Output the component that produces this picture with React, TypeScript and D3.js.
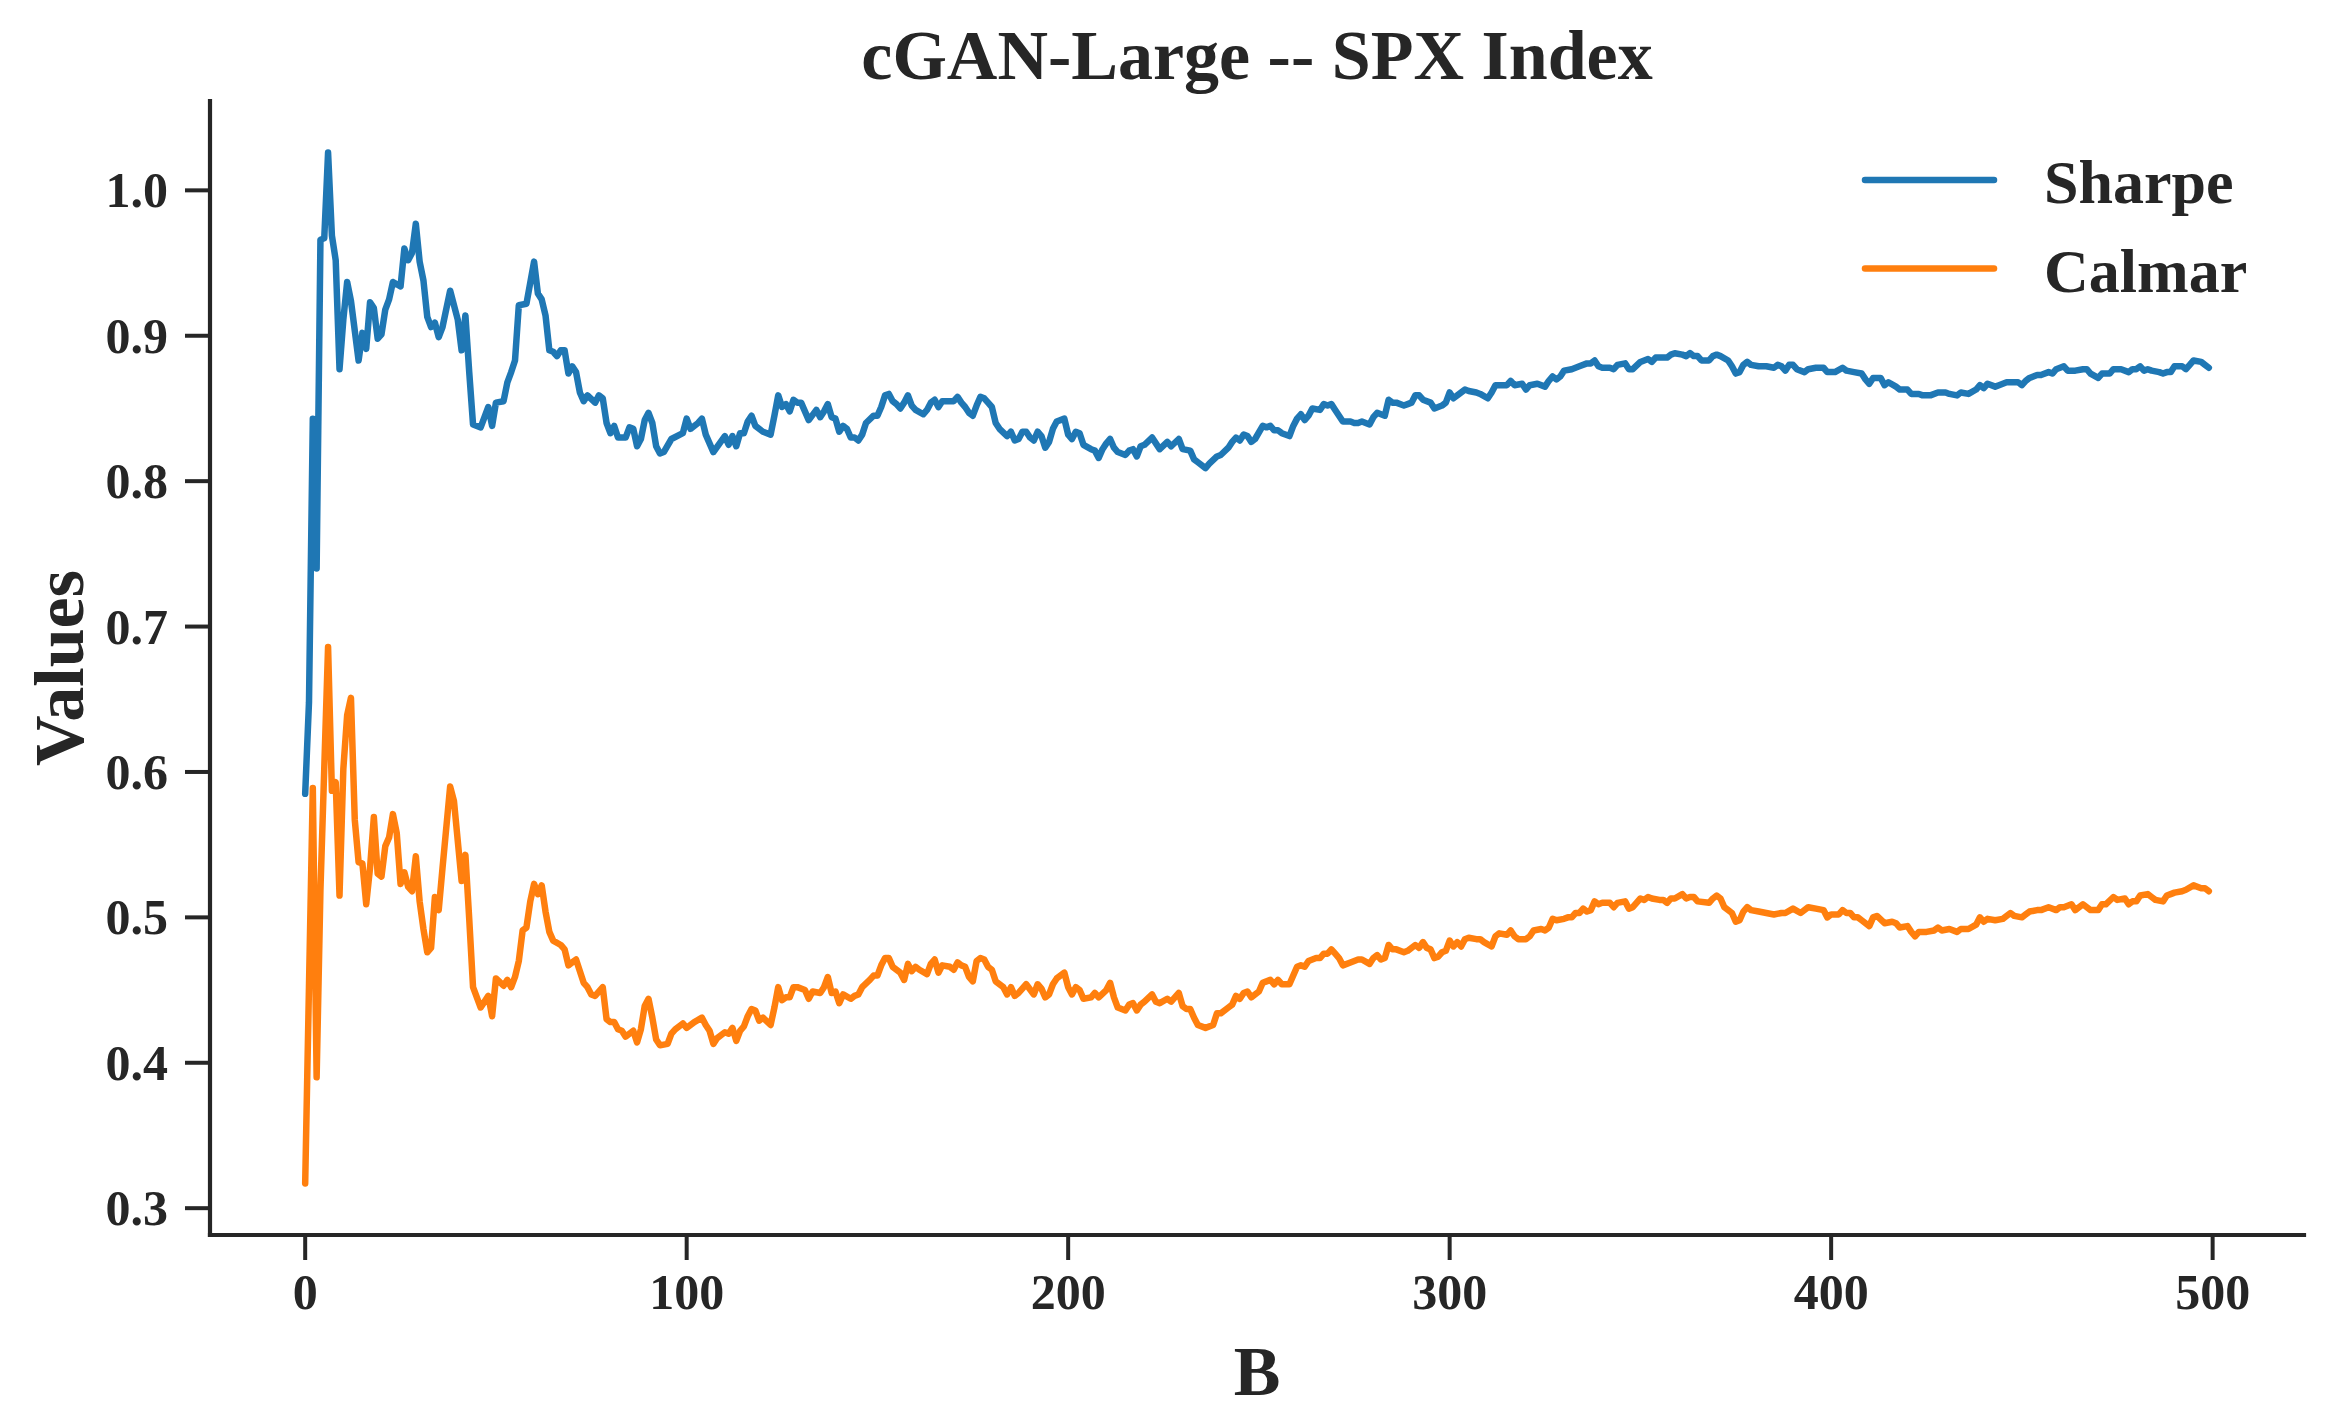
import React from 'react';
import * as d3 from 'd3';

// values: [B, value]
const sharpe: [number, number][] = [
  [0, 0.585], [1, 0.648], [2, 0.843], [3, 0.74], [4, 0.966], [5, 0.967], [6, 1.026], [7, 0.969],
  [8, 0.952], [9, 0.877], [10, 0.911], [11, 0.937], [12, 0.924], [14, 0.883], [15, 0.902],
  [16, 0.891], [17, 0.923], [18, 0.919], [19, 0.898], [20, 0.901], [21, 0.918], [22, 0.925],
  [23, 0.937], [25, 0.934], [26, 0.96], [27, 0.952], [28, 0.957], [29, 0.977], [30, 0.951],
  [31, 0.938], [32, 0.913], [33, 0.906], [34, 0.909], [35, 0.899], [36, 0.906], [38, 0.931],
  [40, 0.911], [41, 0.89], [42, 0.914], [43, 0.875], [44, 0.839], [46, 0.837], [48, 0.851],
  [49, 0.838], [50, 0.854], [52, 0.855], [53, 0.868], [54, 0.875], [55, 0.883], [56, 0.921],
  [58, 0.922], [60, 0.951], [61, 0.929], [62, 0.925], [63, 0.914], [64, 0.89], [65, 0.889],
  [66, 0.886], [67, 0.89], [68, 0.89], [69, 0.874], [70, 0.879], [71, 0.875], [72, 0.861],
  [73, 0.855], [74, 0.859], [76, 0.854], [77, 0.859], [78, 0.857], [79, 0.84], [80, 0.833],
  [81, 0.838], [82, 0.83], [84, 0.83], [85, 0.837], [86, 0.836], [87, 0.824], [88, 0.829],
  [89, 0.842], [90, 0.847], [91, 0.84], [92, 0.824], [93, 0.819], [94, 0.82], [96, 0.829],
  [99, 0.833], [100, 0.843], [101, 0.836], [103, 0.84], [104, 0.843], [105, 0.832], [107, 0.82],
  [110, 0.831], [111, 0.825], [112, 0.831], [113, 0.824], [114, 0.833], [115, 0.833], [116, 0.841],
  [117, 0.845], [118, 0.838], [120, 0.834], [122, 0.832], [123, 0.845], [124, 0.859], [125, 0.851],
  [126, 0.853], [127, 0.848], [128, 0.856], [129, 0.854], [130, 0.854], [131, 0.848], [132, 0.842],
  [134, 0.849], [135, 0.844], [136, 0.848], [137, 0.853], [138, 0.844], [139, 0.843], [140, 0.834],
  [141, 0.838], [142, 0.836], [143, 0.83], [144, 0.83], [145, 0.828], [146, 0.832], [147, 0.84],
  [149, 0.845], [150, 0.845], [151, 0.851], [152, 0.859], [153, 0.86], [154, 0.855], [155, 0.853],
  [156, 0.85], [157, 0.854], [158, 0.859], [159, 0.852], [160, 0.849], [162, 0.846], [163, 0.849],
  [164, 0.854], [165, 0.856], [166, 0.851], [167, 0.855], [168, 0.855], [170, 0.855], [171, 0.858],
  [172, 0.854], [173, 0.851], [174, 0.847], [175, 0.845], [176, 0.852], [177, 0.858], [178, 0.857],
  [179, 0.854], [180, 0.851], [181, 0.84], [182, 0.836], [184, 0.831], [185, 0.834], [186, 0.828],
  [187, 0.829], [188, 0.834], [189, 0.834], [190, 0.83], [191, 0.828], [192, 0.834], [193, 0.831],
  [194, 0.823], [195, 0.827], [196, 0.836], [197, 0.841], [199, 0.843], [200, 0.832], [201, 0.829],
  [202, 0.834], [203, 0.833], [204, 0.825], [206, 0.822], [207, 0.821], [208, 0.816], [209, 0.822],
  [210, 0.826], [211, 0.829], [212, 0.823], [213, 0.82], [215, 0.818], [216, 0.821], [217, 0.822],
  [218, 0.817], [219, 0.824], [220, 0.825], [222, 0.83], [223, 0.826], [224, 0.822], [226, 0.827],
  [227, 0.824], [229, 0.829], [230, 0.822], [232, 0.821], [233, 0.815], [234, 0.813], [236, 0.809],
  [237, 0.812], [239, 0.817], [240, 0.818], [242, 0.823], [243, 0.827], [244, 0.83], [245, 0.828],
  [246, 0.832], [247, 0.831], [248, 0.827], [249, 0.829], [251, 0.838], [252, 0.837], [253, 0.838],
  [254, 0.835], [255, 0.835], [256, 0.833], [258, 0.831], [259, 0.838], [260, 0.843], [261, 0.846],
  [262, 0.842], [263, 0.845], [264, 0.85], [266, 0.849], [267, 0.853], [268, 0.852], [269, 0.853],
  [270, 0.849], [271, 0.845], [272, 0.841], [274, 0.841], [275, 0.84], [276, 0.84], [277, 0.841],
  [279, 0.839], [280, 0.844], [281, 0.847], [283, 0.845], [284, 0.856], [285, 0.854], [286, 0.854],
  [288, 0.852], [289, 0.853], [290, 0.854], [291, 0.859], [292, 0.859], [293, 0.856], [295, 0.854],
  [296, 0.85], [298, 0.852], [299, 0.854], [300, 0.861], [301, 0.857], [302, 0.859], [304, 0.863],
  [305, 0.862], [307, 0.861], [308, 0.86], [310, 0.857], [311, 0.861], [312, 0.866], [313, 0.866],
  [315, 0.866], [316, 0.869], [317, 0.866], [319, 0.867], [320, 0.863], [321, 0.866], [323, 0.867],
  [325, 0.865], [326, 0.869], [327, 0.872], [328, 0.87], [329, 0.872], [330, 0.876], [332, 0.877],
  [333, 0.878], [334, 0.879], [336, 0.881], [337, 0.881], [338, 0.883], [339, 0.879], [340, 0.878],
  [342, 0.878], [343, 0.877], [344, 0.88], [346, 0.881], [347, 0.877], [348, 0.877], [350, 0.882],
  [351, 0.883], [352, 0.884], [353, 0.882], [354, 0.885], [355, 0.885], [357, 0.885], [358, 0.887],
  [359, 0.888], [361, 0.887], [362, 0.886], [363, 0.888], [364, 0.886], [365, 0.886], [366, 0.883],
  [368, 0.883], [369, 0.886], [370, 0.887], [371, 0.886], [373, 0.883], [374, 0.879], [375, 0.874],
  [376, 0.875], [377, 0.88], [378, 0.882], [379, 0.88], [381, 0.879], [383, 0.879], [385, 0.878],
  [386, 0.88], [387, 0.879], [388, 0.876], [389, 0.88], [390, 0.88], [391, 0.877], [393, 0.875],
  [394, 0.877], [396, 0.878], [398, 0.878], [399, 0.875], [401, 0.875], [403, 0.878], [404, 0.876],
  [406, 0.875], [408, 0.874], [409, 0.87], [410, 0.867], [411, 0.871], [413, 0.871], [414, 0.866],
  [415, 0.868], [417, 0.865], [418, 0.863], [420, 0.863], [421, 0.86], [423, 0.86], [424, 0.859],
  [426, 0.859], [428, 0.861], [430, 0.861], [431, 0.86], [433, 0.859], [434, 0.861], [436, 0.86],
  [438, 0.863], [439, 0.866], [440, 0.864], [441, 0.867], [443, 0.865], [444, 0.866], [446, 0.868],
  [447, 0.868], [449, 0.868], [450, 0.866], [451, 0.869], [452, 0.871], [454, 0.873], [455, 0.873],
  [457, 0.875], [458, 0.874], [459, 0.877], [461, 0.879], [462, 0.876], [464, 0.876], [466, 0.877],
  [467, 0.877], [468, 0.874], [470, 0.871], [471, 0.874], [473, 0.874], [474, 0.877], [476, 0.877],
  [478, 0.875], [479, 0.877], [480, 0.877], [481, 0.879], [482, 0.876], [483, 0.877], [484, 0.876],
  [486, 0.875], [487, 0.874], [488, 0.875], [489, 0.875], [490, 0.879], [492, 0.879], [493, 0.877],
  [494, 0.88], [495, 0.883], [497, 0.882], [498, 0.88], [499, 0.878],
];

const calmar: [number, number][] = [
  [0, 0.317], [2, 0.589], [3, 0.39], [4, 0.519], [6, 0.686], [7, 0.587], [8, 0.593], [9, 0.515],
  [10, 0.602], [11, 0.639], [12, 0.651], [13, 0.567], [14, 0.538], [15, 0.537], [16, 0.509],
  [17, 0.534], [18, 0.569], [19, 0.53], [20, 0.528], [21, 0.549], [22, 0.555], [23, 0.571],
  [24, 0.558], [25, 0.523], [26, 0.531], [27, 0.521], [28, 0.518], [29, 0.542], [30, 0.511],
  [31, 0.492], [32, 0.476], [33, 0.479], [34, 0.514], [35, 0.505], [36, 0.534], [38, 0.59],
  [39, 0.58], [41, 0.525], [42, 0.543], [43, 0.499], [44, 0.452], [46, 0.438], [48, 0.446],
  [49, 0.432], [50, 0.458], [52, 0.453], [53, 0.457], [54, 0.452], [55, 0.459], [56, 0.47],
  [57, 0.491], [58, 0.493], [59, 0.511], [60, 0.523], [61, 0.516], [62, 0.522], [63, 0.504],
  [64, 0.49], [65, 0.484], [67, 0.481], [68, 0.478], [69, 0.467], [70, 0.469], [71, 0.471],
  [73, 0.455], [74, 0.452], [75, 0.447], [76, 0.446], [78, 0.452], [79, 0.43], [80, 0.428],
  [81, 0.428], [82, 0.423], [83, 0.422], [84, 0.418], [86, 0.422], [87, 0.414], [88, 0.423],
  [89, 0.439], [90, 0.444], [91, 0.431], [92, 0.416], [93, 0.412], [95, 0.413], [96, 0.42],
  [97, 0.423], [99, 0.427], [100, 0.424], [102, 0.428], [104, 0.431], [105, 0.426], [106, 0.422],
  [107, 0.413], [108, 0.417], [110, 0.421], [111, 0.42], [112, 0.424], [113, 0.415], [114, 0.422],
  [115, 0.425], [116, 0.432], [117, 0.437], [118, 0.436], [119, 0.429], [120, 0.431], [122, 0.426],
  [123, 0.438], [124, 0.452], [125, 0.443], [126, 0.445], [127, 0.445], [128, 0.452], [129, 0.452],
  [131, 0.45], [132, 0.444], [133, 0.449], [135, 0.448], [136, 0.452], [137, 0.459], [138, 0.448],
  [139, 0.449], [140, 0.441], [141, 0.447], [143, 0.444], [144, 0.446], [145, 0.447], [146, 0.452],
  [148, 0.457], [149, 0.46], [150, 0.46], [151, 0.467], [152, 0.472], [153, 0.472], [154, 0.466],
  [156, 0.462], [157, 0.457], [158, 0.468], [159, 0.463], [160, 0.466], [161, 0.464], [163, 0.461],
  [164, 0.468], [165, 0.471], [166, 0.462], [167, 0.467], [169, 0.466], [170, 0.464], [171, 0.469],
  [172, 0.467], [173, 0.466], [174, 0.459], [175, 0.456], [176, 0.47], [177, 0.472], [178, 0.471],
  [179, 0.466], [180, 0.464], [181, 0.456], [183, 0.452], [184, 0.447], [185, 0.452], [186, 0.446],
  [187, 0.448], [189, 0.454], [191, 0.447], [192, 0.454], [193, 0.451], [194, 0.445], [195, 0.447],
  [196, 0.454], [197, 0.458], [199, 0.462], [200, 0.452], [201, 0.447], [202, 0.452], [203, 0.45],
  [204, 0.444], [206, 0.445], [207, 0.448], [208, 0.445], [210, 0.45], [211, 0.455], [212, 0.445],
  [213, 0.438], [215, 0.436], [216, 0.44], [217, 0.441], [218, 0.436], [219, 0.44], [220, 0.442],
  [222, 0.447], [223, 0.442], [224, 0.441], [226, 0.444], [227, 0.442], [229, 0.448], [230, 0.439],
  [231, 0.437], [232, 0.437], [233, 0.431], [234, 0.426], [236, 0.424], [238, 0.426], [239, 0.434],
  [240, 0.434], [242, 0.438], [243, 0.44], [244, 0.446], [245, 0.444], [246, 0.448], [247, 0.449],
  [248, 0.445], [250, 0.449], [251, 0.455], [252, 0.456], [253, 0.457], [254, 0.454], [255, 0.457],
  [256, 0.454], [258, 0.454], [259, 0.46], [260, 0.466], [261, 0.467], [262, 0.466], [263, 0.47],
  [265, 0.472], [266, 0.472], [267, 0.475], [268, 0.475], [269, 0.478], [270, 0.475], [271, 0.472],
  [272, 0.467], [274, 0.469], [275, 0.47], [276, 0.471], [277, 0.471], [279, 0.468], [280, 0.472],
  [281, 0.474], [282, 0.471], [283, 0.472], [284, 0.481], [285, 0.478], [286, 0.478], [288, 0.476],
  [289, 0.477], [291, 0.481], [292, 0.479], [293, 0.483], [294, 0.479], [295, 0.478], [296, 0.472],
  [297, 0.473], [298, 0.476], [299, 0.477], [300, 0.484], [301, 0.48], [302, 0.483], [303, 0.48],
  [304, 0.485], [305, 0.486], [307, 0.485], [308, 0.485], [309, 0.483], [311, 0.48], [312, 0.487],
  [313, 0.489], [315, 0.488], [316, 0.491], [317, 0.487], [318, 0.485], [320, 0.485], [321, 0.487],
  [322, 0.491], [324, 0.492], [325, 0.491], [326, 0.493], [327, 0.499], [328, 0.498], [330, 0.499],
  [331, 0.5], [332, 0.5], [333, 0.503], [334, 0.503], [335, 0.506], [336, 0.504], [337, 0.505],
  [338, 0.511], [339, 0.509], [340, 0.51], [342, 0.51], [343, 0.507], [344, 0.51], [346, 0.511],
  [347, 0.506], [348, 0.507], [350, 0.513], [351, 0.512], [352, 0.514], [353, 0.513], [355, 0.512],
  [356, 0.512], [357, 0.51], [358, 0.513], [359, 0.513], [361, 0.516], [362, 0.513], [363, 0.514],
  [364, 0.514], [365, 0.511], [368, 0.51], [369, 0.513], [370, 0.515], [371, 0.513], [372, 0.507],
  [374, 0.503], [375, 0.497], [376, 0.498], [377, 0.504], [378, 0.507], [379, 0.505], [381, 0.504],
  [383, 0.503], [385, 0.502], [387, 0.503], [388, 0.503], [390, 0.506], [392, 0.503], [394, 0.507],
  [396, 0.506], [398, 0.505], [399, 0.5], [400, 0.502], [402, 0.502], [403, 0.505], [404, 0.503],
  [405, 0.503], [406, 0.5], [407, 0.5], [408, 0.498], [410, 0.494], [411, 0.5], [412, 0.501],
  [414, 0.496], [416, 0.497], [417, 0.496], [418, 0.493], [420, 0.494], [421, 0.49], [422, 0.487],
  [423, 0.49], [425, 0.49], [427, 0.491], [428, 0.493], [429, 0.491], [431, 0.492], [433, 0.49],
  [434, 0.492], [436, 0.492], [438, 0.495], [439, 0.5], [440, 0.497], [441, 0.499], [443, 0.498],
  [445, 0.499], [447, 0.503], [448, 0.501], [450, 0.5], [451, 0.502], [452, 0.504], [454, 0.505],
  [455, 0.505], [457, 0.507], [459, 0.505], [460, 0.507], [461, 0.507], [463, 0.509], [464, 0.505],
  [466, 0.509], [468, 0.505], [470, 0.505], [471, 0.509], [472, 0.509], [474, 0.514], [475, 0.512],
  [477, 0.513], [478, 0.509], [479, 0.511], [480, 0.511], [481, 0.515], [483, 0.516], [484, 0.514],
  [485, 0.512], [487, 0.511], [488, 0.515], [489, 0.516], [490, 0.517], [492, 0.518], [493, 0.519],
  [495, 0.522], [497, 0.52], [498, 0.52], [499, 0.518],
];

const seriesNames = ['Sharpe', 'Calmar'];
const seriesColors = ['#1f77b4', '#ff7f0e'];
const xTickValues = [0, 100, 200, 300, 400, 500];
const yTickValues = [0.3, 0.4, 0.5, 0.6, 0.7, 0.8, 0.9, 1.0];
const titleText = 'cGAN-Large -- SPX Index';
const xLabel = 'B';
const yLabel = 'Values';

const W = 2338;
const H = 1427;
const margin = { left: 210, right: 34, top: 101, bottom: 192 };
const ink = '#262626';
const font = '"Liberation Serif", "Times New Roman", serif';

export default function App() {
  const all = [...sharpe, ...calmar];
  const [bMin, bMax] = d3.extent(all, (d) => d[0]) as [number, number];
  const [vMin, vMax] = d3.extent(all, (d) => d[1]) as [number, number];
  // matplotlib-like 5% margins
  const bPad = (bMax - bMin) * 0.05;
  const vPad = (vMax - vMin) * 0.05;

  const x = d3
    .scaleLinear()
    .domain([bMin - bPad, bMax + bPad])
    .range([margin.left, W - margin.right]);
  const y = d3
    .scaleLinear()
    .domain([vMin - vPad, vMax + vPad])
    .range([H - margin.bottom, margin.top]);

  const line = d3
    .line<[number, number]>()
    .x((d) => x(d[0]))
    .y((d) => y(d[1]));

  const x0 = margin.left;
  const x1 = W - margin.right;
  const y0 = H - margin.bottom;
  const y1 = margin.top;
  const tickLen = 25;
  const fmt = d3.format('.1f');

  return (
    <svg
      width={W}
      height={H}
      style={{ position: 'absolute', left: 0, top: 0, display: 'block', background: '#fff' }}
      fontFamily={font}
      fontWeight="bold"
    >
      {/* series */}
      {[sharpe, calmar].map((s, i) => (
        <path
          key={seriesNames[i]}
          d={line(s) || ''}
          fill="none"
          stroke={seriesColors[i]}
          strokeWidth={6.5}
          strokeLinejoin="round"
          strokeLinecap="round"
        />
      ))}

      {/* spines */}
      <line x1={x0} x2={x1} y1={y0} y2={y0} stroke={ink} strokeWidth={4.2} strokeLinecap="square" />
      <line x1={x0} x2={x0} y1={y1} y2={y0} stroke={ink} strokeWidth={4.2} strokeLinecap="square" />

      {/* x ticks */}
      {xTickValues.map((t) => (
        <g key={'x' + t} transform={`translate(${x(t)},${y0})`}>
          <line y1={0} y2={tickLen} stroke={ink} strokeWidth={4} />
          <text y={74} textAnchor="middle" fontSize={50} fill={ink}>
            {t}
          </text>
        </g>
      ))}

      {/* y ticks */}
      {yTickValues.map((t) => (
        <g key={'y' + t} transform={`translate(${x0},${y(t)})`}>
          <line x1={0} x2={-tickLen} stroke={ink} strokeWidth={4} />
          <text x={-42} y={17} textAnchor="end" fontSize={50} fill={ink}>
            {fmt(t)}
          </text>
        </g>
      ))}

      {/* labels */}
      <text x={(x0 + x1) / 2} y={79} textAnchor="middle" fontSize={70} fill={ink}>
        {titleText}
      </text>
      <text x={(x0 + x1) / 2} y={1395} textAnchor="middle" fontSize={70} fill={ink}>
        {xLabel}
      </text>
      <text
        transform={`translate(83,${(y0 + y1) / 2}) rotate(-90)`}
        textAnchor="middle"
        fontSize={70}
        fill={ink}
      >
        {yLabel}
      </text>

      {/* legend */}
      {seriesNames.map((name, i) => (
        <g key={'leg' + name} transform={`translate(1865,${180 + i * 88.5})`}>
          <line x1={0} x2={129} stroke={seriesColors[i]} strokeWidth={6.5} strokeLinecap="round" />
          <text x={179} y={23} fontSize={62} fill={ink}>
            {name}
          </text>
        </g>
      ))}
    </svg>
  );
}
